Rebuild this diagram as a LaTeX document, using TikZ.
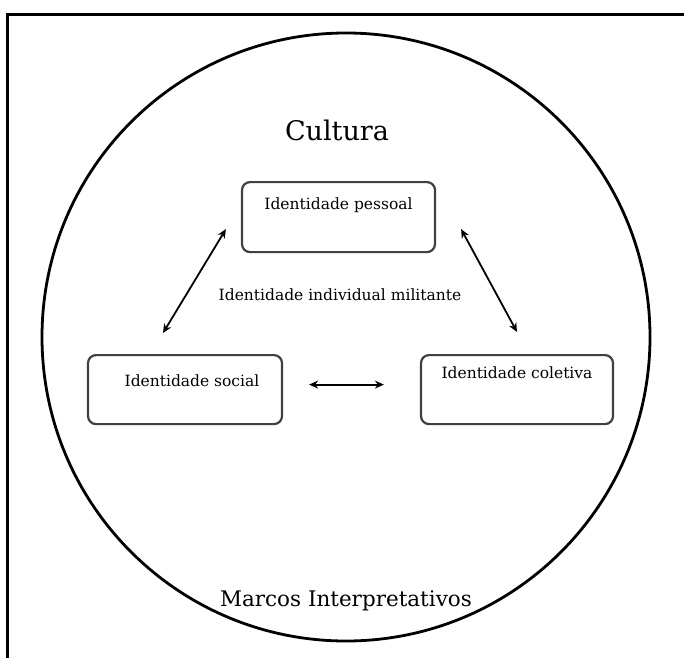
\documentclass[tikz,border=0pt]{standalone}
\usepackage{fontspec}
\setmainfont{DejaVu Serif}
\usepackage{tikz}
\usetikzlibrary{arrows.meta,calc}
\definecolor{cbox}{HTML}{404040}
\tikzset{
  idbox/.style={draw=cbox,fill=white,rounded corners=8pt,line width=2.2pt,inner sep=0pt,anchor=north,font=\fontsize{15.5}{18}\selectfont},
  darr/.style={{Stealth[length=9pt,width=8pt]}-{Stealth[length=9pt,width=8pt]},line width=1.8pt,draw=black},
  big/.style={font=\fontsize{27}{32}\selectfont},
  mid/.style={font=\fontsize{15.5}{18}\selectfont},
}
\begin{document}
\begin{tikzpicture}[x=1pt,y=-1pt]
  \useasboundingbox (0,0) rectangle (684,658);
  % moldura
  \draw[line width=2.4pt] (684,14.5) -- (7.5,14.5) -- (7.5,658);
  \draw[line width=2.8pt] (346,337) circle[radius=304pt];
  % textos
  \node[big] (cult) at (337,130) {Cultura};
  \node[big,font=\fontsize{21.5}{26}\selectfont] (marc) at (346,601) {Marcos Interpretativos};
  \node[mid] (milit) at (340,295) {Identidade individual militante};
  % caixas
  \node[idbox,minimum width=193pt,text height=27pt,text depth=43pt] (pess) at (338.5,181) {Identidade pessoal};
  \node[idbox,minimum width=194pt,text height=31pt,text depth=38pt] (soc) at (185,354) {\hspace{14pt}Identidade social};
  \node[idbox,minimum width=192pt,text height=23pt,text depth=46pt] (col) at (517,354) {Identidade coletiva};
  % setas
  \draw[darr] ($(soc.north)+(-22,-21)$) -- ($(pess.west)+(-15,12)$);
  \draw[darr] ($(pess.east)+(25,12)$) -- ($(col.north)+(0,-22)$);
  \draw[darr] ($(soc.east)+(26,-5)$) -- ($(col.west)+(-36,-5)$);
\end{tikzpicture}
\end{document}
